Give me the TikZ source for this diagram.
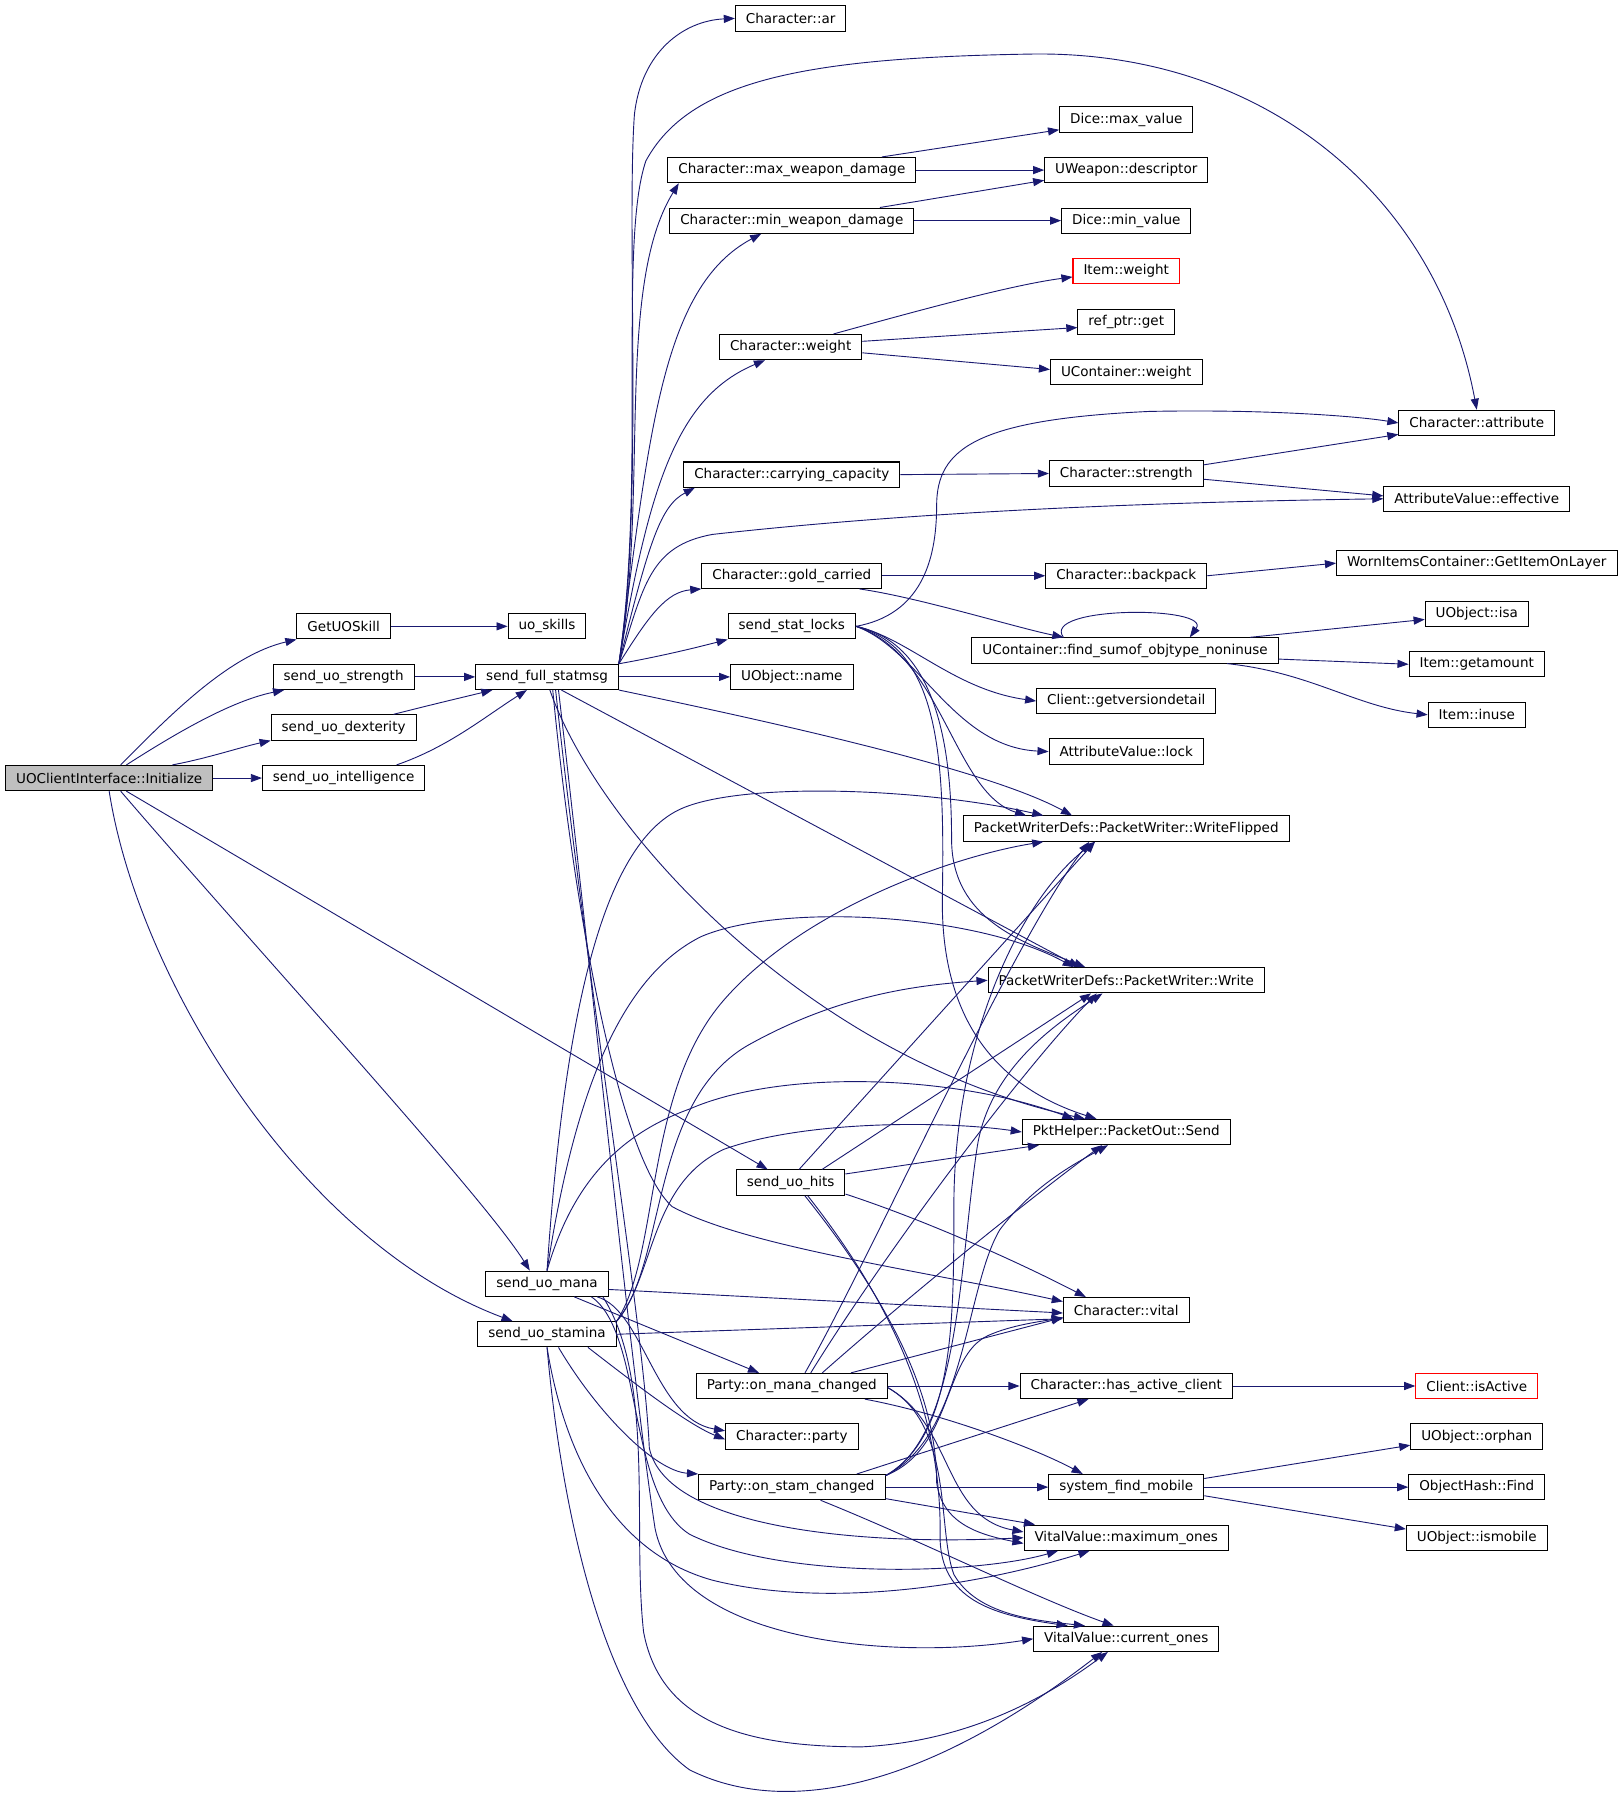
\documentclass[tikz,border=0pt]{standalone}
\usepackage{fontspec}
\setmainfont{DejaVu Sans}
\usetikzlibrary{arrows.meta}
\definecolor{edgec}{rgb}{0.1,0.1,0.44}
\definecolor{boxgray}{rgb}{0.75,0.75,0.75}

\begin{document}
\begin{tikzpicture}[x=0.02cm,y=-0.02cm,
	fn/.style={draw=black, fill=white, line width=0.5pt, inner xsep=5.2pt, inner ysep=0pt, minimum height=0.44cm, font=\fontsize{6.7}{8}\selectfont},
	call/.style={draw=edgec, line width=0.45pt, -{Triangle[length=5.5pt,width=4pt]}}]
			\useasboundingbox (0,0) rectangle (1411,1568);
			\node [fn] (ar) at (688,16) {Character::ar};
			\node [fn] (maxval) at (980,104) {Dice::max\_value};
			\node [fn] (maxdmg) at (689,148) {Character::max\_weapon\_damage};
			\node [fn] (descr) at (980,148) {UWeapon::descriptor};
			\node [fn] (mindmg) at (689,192) {Character::min\_weapon\_damage};
			\node [fn] (minval) at (980,192) {Dice::min\_value};
			\node [fn, draw=red] (iweight) at (980,236) {Item::weight};
			\node [fn] (refget) at (980,280) {ref\_ptr::get};
			\node [fn] (cweight) at (688,302) {Character::weight};
			\node [fn] (ucweight) at (980,324) {UContainer::weight};
			\node [fn] (attr) at (1285,368) {Character::attribute};
			\node [fn] (carry) at (689,413) {Character::carrying\_capacity};
			\node [fn] (strg) at (980,412) {Character::strength};
			\node [fn] (effective) at (1285,434) {AttributeValue::effective};
			\node [fn] (gold) at (689,501) {Character::gold\_carried};
			\node [fn] (backpack) at (980,501) {Character::backpack};
			\node [fn] (getitem) at (1285,490) {WornItemsContainer::GetItemOnLayer};
			\node [fn] (getskill) at (299,545) {GetUOSkill};
			\node [fn] (uoskills) at (476,545) {uo\_skills};
			\node [fn] (locks) at (689,545) {send\_stat\_locks};
			\node [fn] (isa) at (1285,534) {UObject::isa};
			\node [fn] (findsum) at (979,566) {UContainer::find\_sumof\_objtype\_noninuse};
			\node [fn] (getamount) at (1285,578) {Item::getamount};
			\node [fn] (ustrength) at (299,589) {send\_uo\_strength};
			\node [fn] (sfs) at (476,589) {send\_full\_statmsg};
			\node [fn] (oname) at (689,589) {UObject::name};
			\node [fn] (getver) at (980,610) {Client::getversiondetail};
			\node [fn] (inuse) at (1285,622) {Item::inuse};
			\node [fn] (udex) at (299,633) {send\_uo\_dexterity};
			\node [fn] (avlock) at (980,654) {AttributeValue::lock};
			\node [fn, fill=boxgray] (init) at (95,677) {UOClientInterface::Initialize};
			\node [fn] (uintel) at (299,677) {send\_uo\_intelligence};
			\node [fn] (wflip) at (980,721) {PacketWriterDefs::PacketWriter::WriteFlipped};
			\node [fn] (write) at (980,853) {PacketWriterDefs::PacketWriter::Write};
			\node [fn] (send) at (980,985) {PktHelper::PacketOut::Send};
			\node [fn] (hits) at (688,1029) {send\_uo\_hits};
			\node [fn] (mana) at (476,1117) {send\_uo\_mana};
			\node [fn] (vital) at (980,1140) {Character::vital};
			\node [fn] (stamina) at (476,1161) {send\_uo\_stamina};
			\node [fn] (onmana) at (689,1206) {Party::on\_mana\_changed};
			\node [fn] (hasclient) at (980,1206) {Character::has\_active\_client};
			\node [fn, draw=red] (isactive) at (1285,1206) {Client::isActive};
			\node [fn] (party) at (689,1250) {Character::party};
			\node [fn] (orphan) at (1285,1250) {UObject::orphan};
			\node [fn] (onstam) at (689,1294) {Party::on\_stam\_changed};
			\node [fn] (findmob) at (980,1294) {system\_find\_mobile};
			\node [fn] (ohfind) at (1285,1294) {ObjectHash::Find};
			\node [fn] (maxones) at (980,1338) {VitalValue::maximum\_ones};
			\node [fn] (ismobile) at (1285,1338) {UObject::ismobile};
			\node [fn] (curones) at (980,1426) {VitalValue::current\_ones};
			\draw [call] ([xshift=0.2cm]init.north) .. controls (150,620) and (200,570) .. (getskill.south west);
			\draw [call] ([xshift=0.3cm]init.north) .. controls (150,640) and (200,610) .. ([xshift=0.2cm]ustrength.south west);
			\draw [call] ([xshift=1.1cm]init.north) .. controls (180,660) and (210,650) .. (udex.south west);
			\draw [call] (init.east) -- (uintel.west);
			\draw [call] ([xshift=0.3cm]init.south) -- ([xshift=-0.4cm]hits.north);
			\draw [call] ([xshift=0.2cm]init.south) .. controls (224,827) and (420,1040) .. ([xshift=-0.3cm]mana.north);
			\draw [call] (init.south) .. controls (120,850) and (260,1080) .. ([xshift=-0.6cm]stamina.north);
			\draw [call] (getskill.east) -- (uoskills.west);
			\draw [call] (ustrength.east) -- (sfs.west);
			\draw [call] ([xshift=-0.4cm]udex.north east) .. controls (380,612) and (410,605) .. ([xshift=0.3cm]sfs.south west);
			\draw [call] ([xshift=-0.5cm]uintel.north east) .. controls (390,650) and (420,625) .. ([xshift=0.9cm]sfs.south west);
			\draw [call] (sfs.north east) .. controls (560,450) and (545,200) .. (552,100) .. controls (558,45) and (595,18) .. (ar.west);
			\draw [call] (sfs.north east) .. controls (562,420) and (538,210) .. (562,140) .. controls (600,70) and (700,50) .. (900,47) .. controls (1100,45) and (1250,170) .. (attr.north);
			\draw [call] (sfs.north east) .. controls (565,430) and (535,250) .. ([xshift=0.2cm]maxdmg.south west);
			\draw [call] (sfs.north east) .. controls (565,380) and (575,250) .. ([xshift=1.6cm]mindmg.south west);
			\draw [call] (sfs.north east) .. controls (565,420) and (590,345) .. ([xshift=0.8cm]cweight.south west);
			\draw [call] (sfs.north east) .. controls (565,470) and (575,440) .. ([xshift=0.2cm]carry.south west);
			\draw [call] (sfs.north east) .. controls (560,510) and (565,475) .. (620,465) .. controls (800,445) and (1000,437) .. (effective.west);
			\draw [call] (sfs.north east) .. controls (565,535) and (580,515) .. (gold.south west);
			\draw [call] (sfs.north east) .. controls (570,572) and (600,565) .. (locks.south west);
			\draw [call] (sfs.east) -- (oname.west);
			\draw [call] (sfs.south east) .. controls (680,630) and (860,670) .. ([xshift=1.9cm]wflip.north west);
			\draw [call] ([xshift=1.5cm]sfs.south west) -- ([xshift=1.6cm]write.north west);
			\draw [call] ([xshift=1.3cm]sfs.south west) .. controls (520,720) and (700,920) .. ([xshift=1.1cm]send.north west);
			\draw [call] ([xshift=1.35cm]sfs.south west) .. controls (500,800) and (540,1010) .. (585,1050) .. controls (650,1085) and (800,1105) .. ([yshift=0.15cm]vital.west);
			\draw [call] ([xshift=1.4cm]sfs.south west) .. controls (510,850) and (560,1150) .. (565,1260) .. controls (580,1330) and (750,1345) .. (maxones.west);
			\draw [call] ([xshift=1.45cm]sfs.south west) .. controls (515,850) and (550,1200) .. (570,1330) .. controls (590,1430) and (780,1445) .. (curones.west);
			\draw [call] (locks.east) .. controls (800,535) and (815,490) .. (815,440) .. controls (815,390) and (850,365) .. (1000,358) .. controls (1100,356) and (1180,362) .. (attr.west);
			\draw [call] (locks.east) .. controls (790,555) and (830,600) .. (getver.west);
			\draw [call] (locks.east) .. controls (800,565) and (830,650) .. (avlock.west);
			\draw [call] (locks.east) .. controls (820,570) and (830,690) .. ([xshift=1.1cm]wflip.north west);
			\draw [call] (locks.east) .. controls (815,560) and (828,650) .. (828,730) .. controls (828,800) and (890,820) .. ([xshift=1.7cm]write.north west);
			\draw [call] (locks.east) .. controls (818,565) and (822,660) .. (820,780) .. controls (818,900) and (880,950) .. ([xshift=1.3cm]send.north west);
			\draw [call] ([xshift=-0.6cm]maxdmg.north east) -- ([yshift=0.05cm]maxval.south west);
			\draw [call] (maxdmg.east) -- (descr.west);
			\draw [call] ([xshift=-0.6cm]mindmg.north east) -- ([yshift=0.05cm]descr.south west);
			\draw [call] (mindmg.east) -- (minval.west);
			\draw [call] ([xshift=-0.5cm]cweight.north east) .. controls (800,270) and (880,248) .. ([yshift=-0.1cm]iweight.west);
			\draw [call] ([yshift=0.1cm]cweight.east) -- ([yshift=-0.1cm]refget.west);
			\draw [call] ([yshift=-0.1cm]cweight.east) -- ([yshift=0.05cm]ucweight.west);
			\draw [call] (carry.east) -- (strg.west);
			\draw [call] ([yshift=0.15cm]strg.east) -- ([yshift=-0.2cm]attr.west);
			\draw [call] ([yshift=-0.1cm]strg.east) -- ([yshift=0.05cm]effective.west);
			\draw [call] (gold.east) -- (backpack.west);
			\draw [call] ([xshift=-0.4cm]gold.south east) .. controls (800,520) and (880,545) .. ([xshift=1.6cm]findsum.north west);
			\draw [call] (backpack.east) -- (getitem.west);
			\draw [call] ([xshift=1.6cm]findsum.north west) .. controls (905,527) and (1055,527) .. ([xshift=3.8cm]findsum.north west);
			\draw [call] ([xshift=-0.5cm]findsum.north east) -- ([yshift=-0.1cm]isa.west);
			\draw [call] ([yshift=-0.15cm]findsum.east) -- (getamount.west);
			\draw [call] ([xshift=-0.9cm]findsum.south east) .. controls (1140,585) and (1180,615) .. (inuse.west);
			\draw [call] ([xshift=1.1cm]hits.north west) -- ([xshift=2.3cm]wflip.south west);
			\draw [call] ([xshift=1.5cm]hits.north west) -- ([xshift=1.8cm]write.south west);
			\draw [call] ([yshift=0.15cm]hits.east) -- ([xshift=0.3cm]send.south west);
			\draw [call] ([yshift=-0.2cm]hits.east) .. controls (800,1060) and (880,1095) .. ([xshift=0.4cm]vital.north west);
			\draw [call] ([xshift=1.2cm]hits.south west) .. controls (780,1140) and (815,1220) .. (815,1290) .. controls (820,1325) and (850,1335) .. ([yshift=-0.1cm]maxones.west);
			\draw [call] ([xshift=1.25cm]hits.south west) .. controls (785,1145) and (820,1240) .. (818,1340) .. controls (820,1390) and (860,1405) .. ([xshift=0.6cm]curones.north west);
			\draw [call] (mana.north) .. controls (490,900) and (520,740) .. (590,705) .. controls (640,680) and (800,685) .. ([xshift=1.4cm]wflip.north west);
			\draw [call] (mana.north) .. controls (500,950) and (540,850) .. (610,815) .. controls (680,785) and (850,795) .. ([xshift=1.5cm]write.north west);
			\draw [call] (mana.north) .. controls (495,1040) and (530,990) .. (600,965) .. controls (680,930) and (830,935) .. ([xshift=0.9cm]send.north west);
			\draw [call] ([yshift=-0.1cm]mana.east) -- ([yshift=-0.05cm]vital.west);
			\draw [call] ([xshift=-0.6cm]mana.south east) -- ([xshift=1.1cm]onmana.north west);
			\draw [call] ([xshift=-0.2cm]mana.south east) .. controls (560,1140) and (570,1235) .. ([yshift=0.1cm]party.west);
			\draw [call] ([xshift=-0.3cm]mana.south east) .. controls (560,1160) and (545,1300) .. (600,1335) .. controls (680,1375) and (850,1370) .. ([xshift=0.6cm]maxones.south west);
			\draw [call] ([xshift=-0.1cm]mana.south east) .. controls (570,1200) and (550,1330) .. (560,1420) .. controls (575,1500) and (650,1520) .. (750,1520) .. controls (850,1515) and (920,1470) .. ([xshift=1.3cm]curones.south west);
			\draw [call] (stamina.north east) .. controls (575,1090) and (560,950) .. (630,870) .. controls (700,790) and (830,745) .. ([xshift=1.4cm]wflip.south west);
			\draw [call] (stamina.north east) .. controls (580,1100) and (565,960) .. (650,910) .. controls (730,865) and (800,857) .. (write.west);
			\draw [call] (stamina.north east) .. controls (570,1110) and (565,1030) .. (630,1000) .. controls (700,975) and (820,975) .. (send.west);
			\draw [call] (stamina.east) -- ([yshift=-0.15cm]vital.west);
			\draw [call] ([xshift=-0.5cm]stamina.south east) .. controls (560,1210) and (600,1240) .. ([yshift=-0.05cm]party.west);
			\draw [call] ([xshift=0.2cm]stamina.south) .. controls (520,1230) and (570,1280) .. (onstam.north west);
			\draw [call] (stamina.south) .. controls (490,1260) and (530,1350) .. (620,1375) .. controls (720,1400) and (850,1380) .. ([xshift=1.15cm]maxones.south west);
			\draw [call] (stamina.south) .. controls (490,1330) and (530,1490) .. (600,1540) .. controls (680,1580) and (800,1560) .. ([xshift=1.2cm]curones.south west);
			\draw [call] (onmana.east) -- (hasclient.west);
			\draw [call] ([xshift=2.7cm]onmana.north west) -- ([yshift=0.1cm]vital.south west);
			\draw [call] ([xshift=-0.4cm]onmana.south east) .. controls (820,1230) and (900,1260) .. ([xshift=0.6cm]findmob.north west);
			\draw [call] ([xshift=1.9cm]onmana.north west) .. controls (760,1090) and (880,820) .. ([xshift=2.2cm]wflip.south west);
			\draw [call] ([xshift=2cm]onmana.north west) .. controls (770,1090) and (890,930) .. ([xshift=1.9cm]write.south west);
			\draw [call] ([xshift=2.2cm]onmana.north west) .. controls (800,1120) and (900,1040) .. ([xshift=1.4cm]send.south west);
			\draw [call] ([yshift=0.2cm]onmana.south east) .. controls (830,1240) and (820,1320) .. ([yshift=0.1cm]maxones.west);
			\draw [call] ([yshift=0.2cm]onmana.south east) .. controls (830,1240) and (815,1330) .. (830,1370) .. controls (850,1405) and (900,1410) .. ([xshift=0.9cm]curones.north west);
			\draw [call] ([xshift=-0.5cm]onstam.north east) -- ([xshift=1.2cm]hasclient.south west);
			\draw [call] (onstam.east) -- (findmob.west);
			\draw [call] ([yshift=0.2cm]onstam.east) .. controls (830,1260) and (820,1180) .. (860,1162) .. controls (880,1153) and (905,1150) .. ([yshift=0.1cm]vital.south west);
			\draw [call] ([yshift=0.2cm]onstam.east) .. controls (830,1250) and (830,1150) .. (830,1050) .. controls (830,900) and (890,780) .. ([xshift=2.3cm]wflip.south west);
			\draw [call] ([yshift=0.2cm]onstam.east) .. controls (835,1250) and (835,1100) .. (850,1000) .. controls (860,930) and (920,890) .. ([xshift=2cm]write.south west);
			\draw [call] ([yshift=0.2cm]onstam.east) .. controls (840,1250) and (840,1120) .. (870,1070) .. controls (900,1030) and (940,1010) .. ([xshift=1.5cm]send.south west);
			\draw [call] ([yshift=-0.2cm]onstam.east) -- ([xshift=0.2cm]maxones.north west);
			\draw [call] ([xshift=0.5cm]onstam.south) .. controls (800,1340) and (900,1390) .. ([xshift=1.4cm]curones.north west);
			\draw [call] (hasclient.east) -- (isactive.west);
			\draw [call] ([yshift=0.15cm]findmob.east) -- ([yshift=-0.15cm]orphan.west);
			\draw [call] (findmob.east) -- (ohfind.west);
			\draw [call] ([yshift=-0.15cm]findmob.east) -- ([yshift=0.15cm]ismobile.west);
\end{tikzpicture}
\end{document}
